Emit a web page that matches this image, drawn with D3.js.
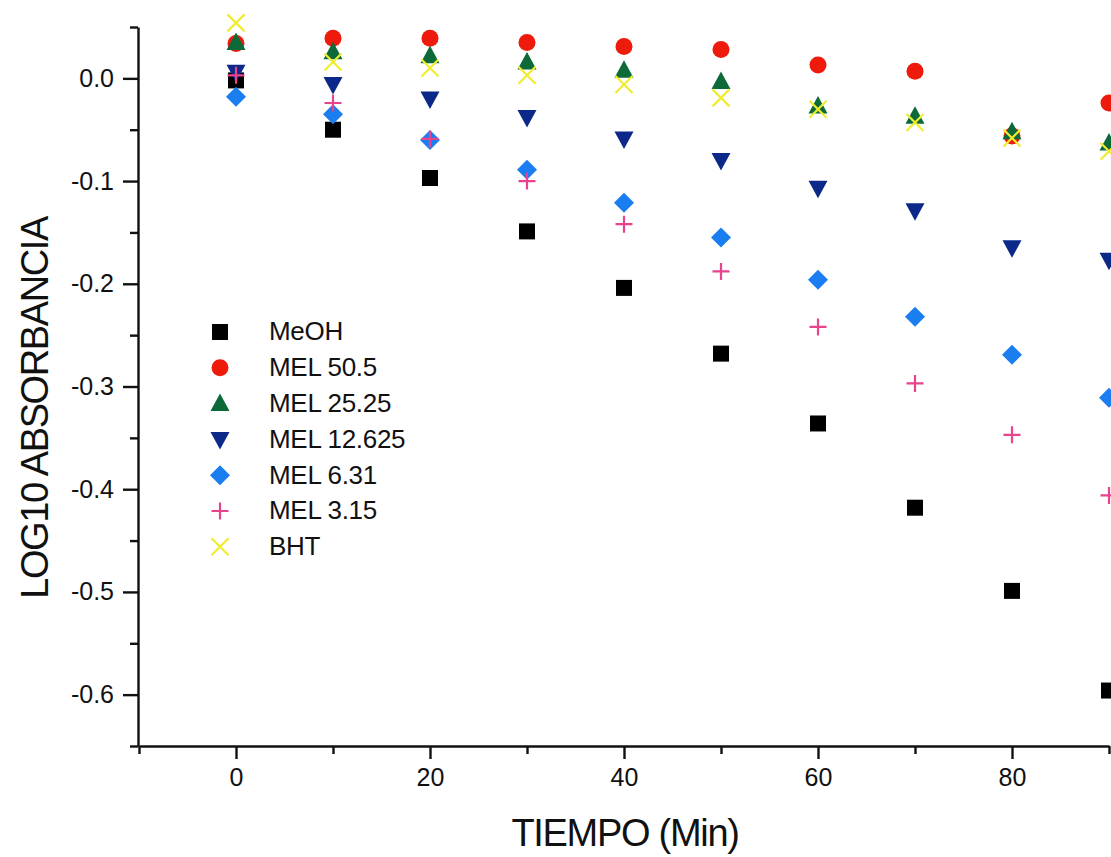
<!DOCTYPE html>
<html>
<head>
<meta charset="utf-8">
<script src="https://cdn.jsdelivr.net/npm/d3@7"></script>
<style>
  body { margin: 0; background: #fff; }
  svg { display: block; font-family: "Liberation Sans", Arial, sans-serif; }
  .axis path, .axis line { stroke: #111; stroke-width: 2.4; }
  .axis text { font-size: 25px; fill: #111; font-family: "Liberation Sans", Arial, sans-serif; }
</style>
</head>
<body>
<svg id="chart" width="1111" height="857"></svg>
<script>
// Data
const tiempo = [0, 10, 20, 30, 40, 50, 60, 70, 80, 90];
const meoh   = [-0.002, -0.050, -0.097, -0.149, -0.204, -0.268, -0.336, -0.418, -0.499, -0.596];
const mel50  = [0.034, 0.039, 0.039, 0.035, 0.031, 0.028, 0.013, 0.007, -0.056, -0.024];
const mel25  = [0.035, 0.026, 0.022, 0.016, 0.008, -0.003, -0.027, -0.037, -0.052, -0.063];
const mel12  = [0.006, -0.006, -0.020, -0.038, -0.059, -0.080, -0.107, -0.129, -0.165, -0.177];
const mel6   = [-0.018, -0.035, -0.060, -0.089, -0.121, -0.155, -0.196, -0.232, -0.269, -0.311];
const mel3   = [0.003, -0.024, -0.059, -0.100, -0.142, -0.188, -0.242, -0.297, -0.347, -0.406];
const bht    = [0.054, 0.016, 0.010, 0.003, -0.006, -0.019, -0.030, -0.043, -0.058, -0.071];

const seriesNames = ["MeOH", "MEL 50.5", "MEL 25.25", "MEL 12.625", "MEL 6.31", "MEL 3.15", "BHT"];
const seriesValues = [meoh, mel50, mel25, mel12, mel6, mel3, bht];

const xTicks = [0, 20, 40, 60, 80];
const xMinor = [-10, 10, 30, 50, 70, 90];
const yTicks = [0.0, -0.1, -0.2, -0.3, -0.4, -0.5, -0.6];
const yMinor = [0.05, -0.05, -0.15, -0.25, -0.35, -0.45, -0.55, -0.65];

const styles = [
  { shape: "square",   color: "#000000" },
  { shape: "circle",   color: "#ee1a0c" },
  { shape: "triUp",    color: "#0c6a38" },
  { shape: "triDown",  color: "#0c2888" },
  { shape: "diamond",  color: "#1b7ef0" },
  { shape: "plus",     color: "#e8438c" },
  { shape: "cross",    color: "#f0ec30" }
];

// marker paths
const markerPath = shape => {
  switch (shape) {
    case "square":  return "M-8,-8H8V8H-8Z";
    case "circle":  return d3.symbol(d3.symbolCircle, Math.PI * 8.5 * 8.5)();
    case "triUp":   return "M0,-10L9.5,7.5L-9.5,7.5Z";
    case "triDown": return "M0,10L9.5,-7.5L-9.5,-7.5Z";
    case "diamond": return "M0,-10L10,0L0,10L-10,0Z";
    case "plus":    return "M-8.5,0H8.5M0,-8.5V8.5";
    case "cross":   return "M-8.5,-8.5L8.5,8.5M8.5,-8.5L-8.5,8.5";
  }
};
const isStroke = s => s === "plus" || s === "cross";

const svg = d3.select("#chart");

const x = d3.scaleLinear().domain([-10, 90]).range([139, 1109]);
const y = d3.scaleLinear().domain([0.05, -0.65]).range([27, 746]);

// Axes
svg.append("g").attr("class", "axis")
  .attr("transform", "translate(0,746)")
  .call(d3.axisBottom(x).tickValues(xTicks).tickSize(13).tickSizeOuter(0).tickPadding(9)
    .tickFormat(d3.format("d")));
svg.append("g").attr("class", "axis")
  .attr("transform", "translate(0,746)")
  .call(d3.axisBottom(x).tickValues(xMinor).tickSize(8).tickSizeOuter(0).tickFormat(""))
  .select(".domain").remove();

svg.append("g").attr("class", "axis")
  .attr("transform", "translate(138,0)")
  .call(d3.axisLeft(y).tickValues(yTicks).tickSize(15).tickSizeOuter(0).tickPadding(9)
    .tickFormat(d3.format(".1f")));
svg.append("g").attr("class", "axis")
  .attr("transform", "translate(138,0)")
  .call(d3.axisLeft(y).tickValues(yMinor).tickSize(8).tickSizeOuter(0).tickFormat(""))
  .select(".domain").remove();

// replace unicode minus with plain hyphen like the original
svg.selectAll(".axis text").text(function() { return d3.select(this).text().replace("\u2212", "-"); });

// Axis titles
svg.append("text")
  .attr("x", 625).attr("y", 846)
  .attr("text-anchor", "middle")
  .style("font-size", "38px").style("letter-spacing", "-1.3px").attr("fill", "#111")
  .text("TIEMPO (Min)");

svg.append("text")
  .attr("transform", "translate(48,408) rotate(-90)")
  .attr("text-anchor", "middle")
  .style("font-size", "38px").style("letter-spacing", "-1.4px").attr("fill", "#111")
  .text("LOG10 ABSORBANCIA");

// Points, drawn series by series
seriesValues.forEach((vals, i) => {
  const st = styles[i];
  svg.append("g").selectAll("path")
    .data(tiempo.map((t, j) => ({ t, v: vals[j] })))
    .join("path")
    .attr("transform", d => `translate(${x(d.t)},${y(d.v)})`)
    .attr("d", markerPath(st.shape))
    .attr("fill", isStroke(st.shape) ? "none" : st.color)
    .attr("stroke", isStroke(st.shape) ? st.color : "none")
    .attr("stroke-width", isStroke(st.shape) ? 2.2 : 0);
});

// Legend
const legend = svg.append("g").attr("transform", "translate(220,332)");
seriesNames.forEach((name, i) => {
  const st = styles[i];
  const row = legend.append("g").attr("transform", `translate(0,${i * 35.8})`);
  row.append("path")
    .attr("d", markerPath(st.shape))
    .attr("fill", isStroke(st.shape) ? "none" : st.color)
    .attr("stroke", isStroke(st.shape) ? st.color : "none")
    .attr("stroke-width", isStroke(st.shape) ? 2.2 : 0);
  row.append("text")
    .attr("x", 49).attr("dy", "0.32em")
    .style("font-size", "26px").style("letter-spacing", "-0.3px").attr("fill", "#111")
    .text(name);
});
</script>
</body>
</html>
